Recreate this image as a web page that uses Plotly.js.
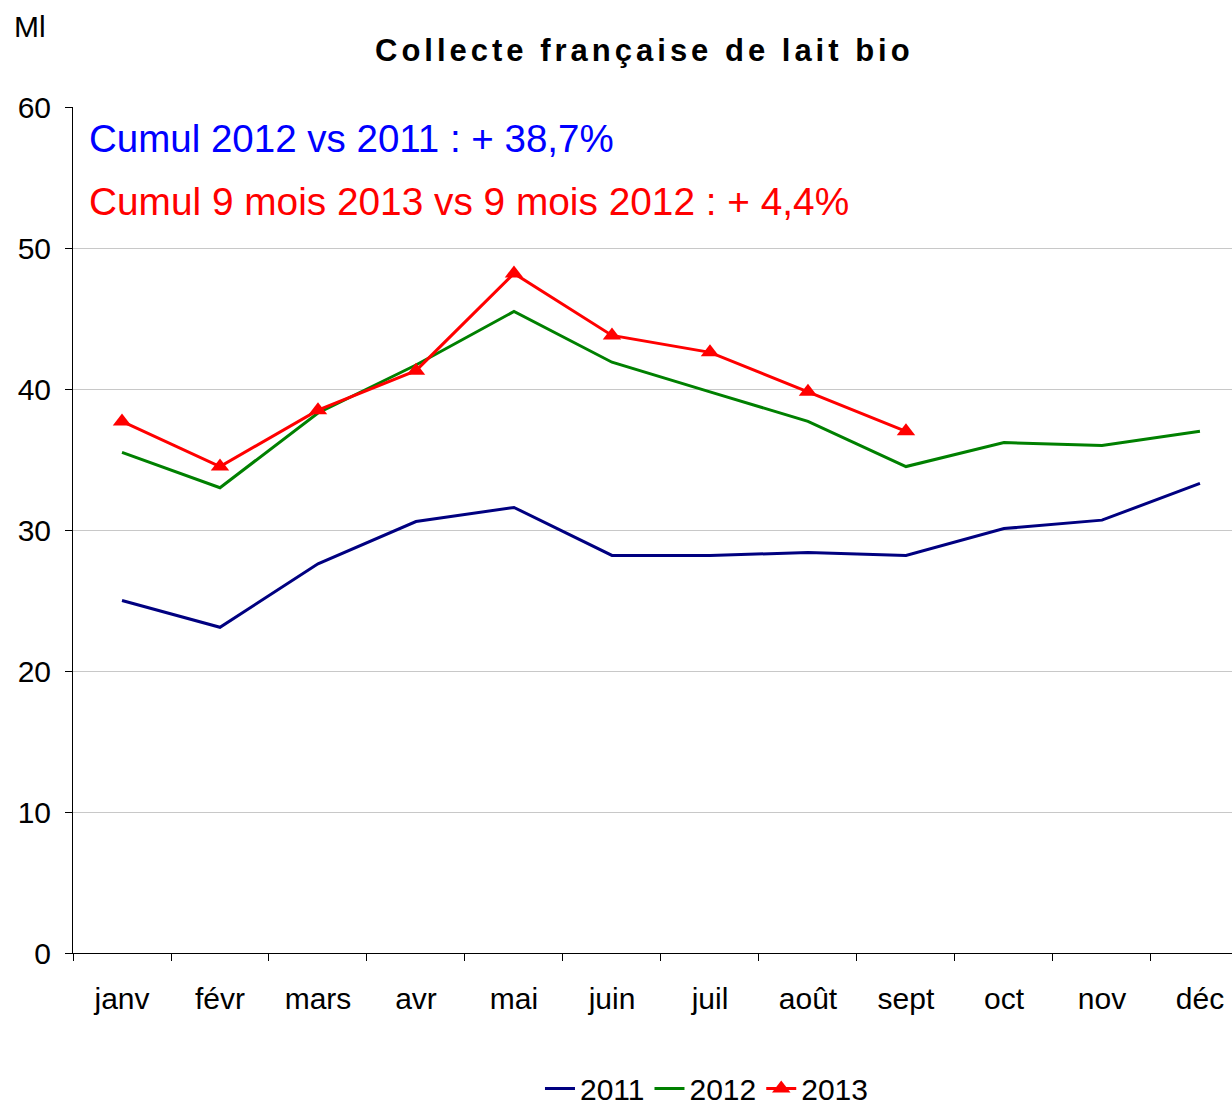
<!DOCTYPE html>
<html>
<head>
<meta charset="utf-8">
<script src="https://cdn.plot.ly/plotly-3.0.1.min.js"></script>
<style>
html,body{margin:0;padding:0;background:#fff;overflow:hidden;}
#chart .gtitle{letter-spacing:4px;}
</style>
</head>
<body>
<div id="chart" style="width:1232px;height:1109px;"></div>
<script>
const months = ["janv","févr","mars","avr","mai","juin","juil","août","sept","oct","nov","déc"];
const v2011 = [25.0, 23.1, 27.6, 30.6, 31.6, 28.2, 28.2, 28.4, 28.2, 30.1, 30.7, 33.3];
const v2012 = [35.5, 33.0, 38.3, 41.7, 45.5, 41.9, 39.8, 37.7, 34.5, 36.2, 36.0, 37.0];
const v2013 = [37.7, 34.5, 38.5, 41.3, 48.2, 43.8, 42.6, 39.8, 37.0];
const months2013 = months.slice(0, v2013.length);
const yTicks = [0, 10, 20, 30, 40, 50, 60];

const font = "Liberation Sans, Arial, sans-serif";

const traces = [
  {x: months, y: v2011, name: "2011", type: "scatter", mode: "lines",
   line: {color: "#000080", width: 3}},
  {x: months, y: v2012, name: "2012", type: "scatter", mode: "lines",
   line: {color: "#008000", width: 3}},
  {x: months2013, y: v2013, name: "2013", type: "scatter", mode: "lines+markers",
   line: {color: "#FF0000", width: 3},
   marker: {symbol: "triangle-up", size: 16, color: "#FF0000"}}
];

const layout = {
  width: 1232, height: 1109,
  margin: {l: 73, r: 0, t: 107, b: 156},
  paper_bgcolor: "#fff", plot_bgcolor: "#fff",
  font: {family: font, color: "#000", size: 30},
  title: {text: "<b>Collecte française de lait bio</b>", font: {family: font, size: 31, color: "#000"},
          x: 0.523, xanchor: "center", y: 0.955, yanchor: "middle"},
  showlegend: true,
  legend: {orientation: "h", xref: "paper", x: 0.547, xanchor: "center",
           yref: "container", y: 0.042, yanchor: "top",
           font: {family: font, size: 30, color: "#000"}},
  xaxis: {
    type: "category", categoryorder: "array", categoryarray: months,
    range: [-0.5, 11.327],
    showline: true, linecolor: "#000", linewidth: 1,
    ticks: "outside", ticklen: 7, tickcolor: "#000", tickson: "boundaries",
    showgrid: false, zeroline: false,
    tickfont: {family: font, size: 30, color: "#000"},
    ticklabelstandoff: 19
  },
  yaxis: {
    range: [0, 60], tickvals: yTicks,
    showline: true, linecolor: "#000", linewidth: 1,
    ticks: "outside", ticklen: 7, tickcolor: "#000",
    showgrid: true, gridcolor: "#c8c8c8", gridwidth: 1, zeroline: false,
    tickfont: {family: font, size: 30, color: "#000"},
    ticklabelstandoff: 8
  },
  annotations: [
    {text: "Ml", xref: "paper", yref: "paper", x: -0.053, y: 1.095, xanchor: "left", yanchor: "middle",
     showarrow: false, font: {family: font, size: 30, color: "#000"}},
    {text: "Cumul 2012 vs 2011 : + 38,7%", xref: "paper", yref: "paper", x: 0.012, y: 0.963,
     xanchor: "left", yanchor: "middle", showarrow: false, font: {family: font, size: 38.5, color: "#0000FF"}},
    {text: "Cumul 9 mois 2013 vs 9 mois 2012 : + 4,4%", xref: "paper", yref: "paper", x: 0.012, y: 0.888,
     xanchor: "left", yanchor: "middle", showarrow: false, font: {family: font, size: 38.8, color: "#FF0000"}}
  ]
};

Plotly.newPlot("chart", traces, layout, {displayModeBar: false, staticPlot: true});
</script>
</body>
</html>
